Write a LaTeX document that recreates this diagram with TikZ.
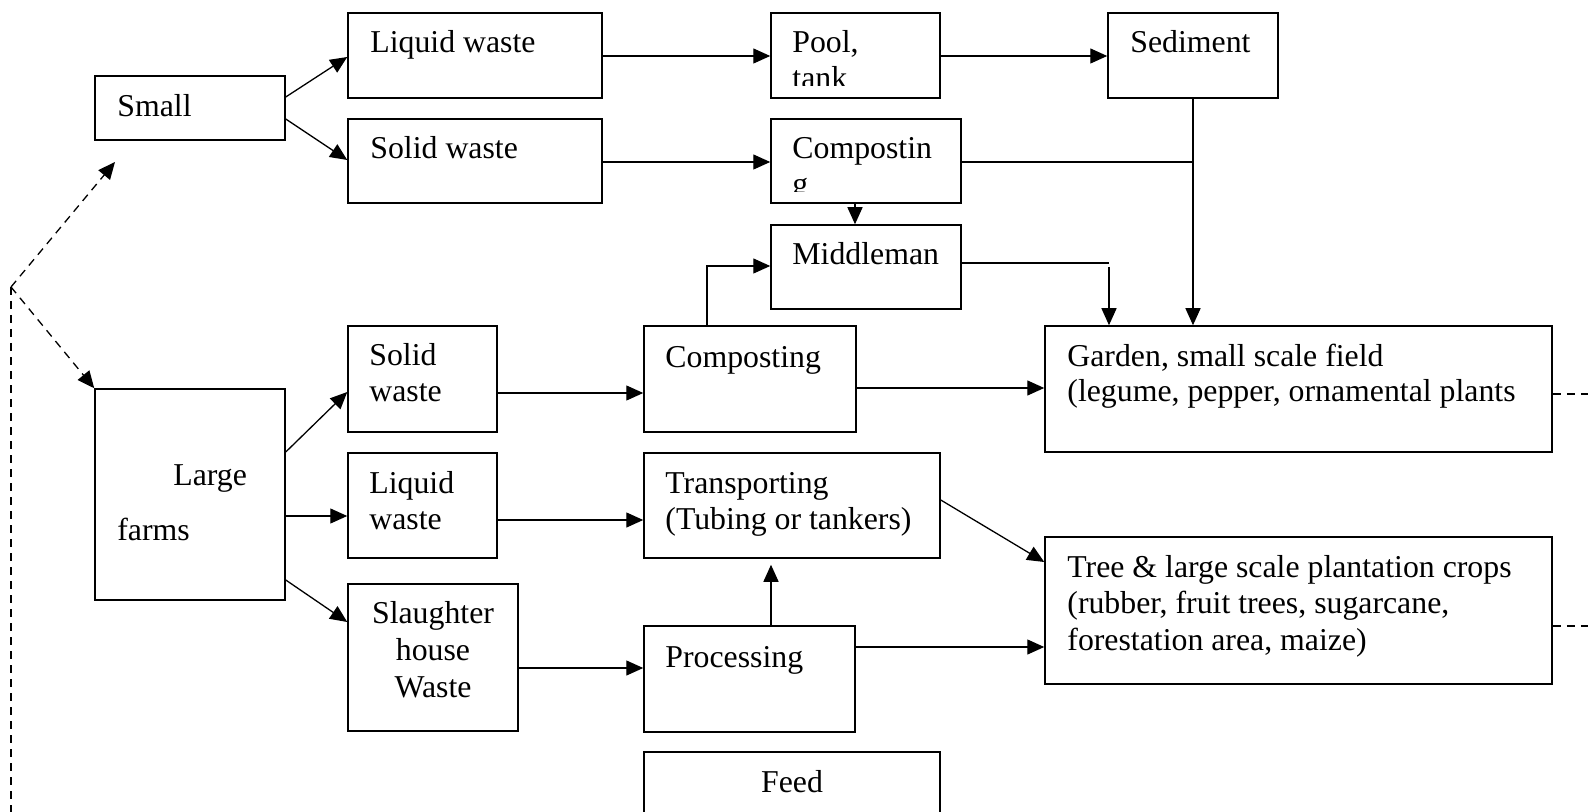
\documentclass[tikz,border=0pt]{standalone}
\usepackage{fontspec}
\setmainfont{Liberation Serif}
\usetikzlibrary{arrows.meta,fit}
\begin{document}
\begin{tikzpicture}[x=0.5pt,y=-0.5pt,
  box/.style={draw, line width=0.75pt, inner sep=0pt},
  txt/.style={inner sep=0pt, anchor=base west, font=\fontsize{15.9pt}{18pt}\selectfont},
  ctxt/.style={txt, anchor=base},
  tip/.style={-{Triangle[length=8.5pt,width=7.5pt]}},
  ln/.style={line width=0.65pt},
  arr/.style={ln, tip},
  dsh/.style={line width=0.65pt, dash pattern=on 4pt off 3pt}]
\useasboundingbox (0,0) rectangle (1588,812);

% boxes
\node[box, fit={(95,76) (285,140)}] (small) {};
\node[box, fit={(348,13) (602,98)}] (liqS) {};
\node[box, fit={(348,119) (602,203)}] (solS) {};
\node[box, fit={(771,13) (940,98)}] (pool) {};
\node[box, fit={(771,119) (961,203)}] (compS) {};
\node[box, fit={(1108,13) (1278,98)}] (sed) {};
\node[box, fit={(771,225) (961,309)}] (middle) {};
\node[box, fit={(95,389) (285,600)}] (large) {};
\node[box, fit={(348,326) (497,432)}] (solL) {};
\node[box, fit={(348,453) (497,558)}] (liqL) {};
\node[box, fit={(348,584) (518,731)}] (slaughter) {};
\node[box, fit={(644,326) (856,432)}] (compL) {};
\node[box, fit={(644,453) (940,558)}] (transport) {};
\node[box, fit={(644,626) (855,732)}] (processing) {};
\node[box, fit={(644,752) (940,840)}] (feed) {};
\node[box, fit={(1045,326) (1552,452)}] (garden) {};
\node[box, fit={(1045,537) (1552,684)}] (tree) {};

% texts
\node[txt] (tSmall) at (117,117) {Small};
\node[txt] (tLiqS) at (370,53) {Liquid waste};
\node[txt] (tSolS) at (370,159) {Solid waste};
\node[txt] (tPool) at (792,53) {Pool,};
\begin{scope}
  \clip (771,13) rectangle (940,86);
  \node[txt] (tTank) at (792,89) {tank};
\end{scope}
\node[txt] (tCompS) at (792,159) {Compostin};
\begin{scope}
  \clip (771,119) rectangle (961,192);
  \node[txt] (tCompSg) at (792,195) {g};
\end{scope}
\node[txt] (tSed) at (1130,53) {Sediment};
\node[txt] (tMid) at (792,265) {Middleman};
\node[txt] (tLarge1) at (173,485) {Large};
\node[txt] (tLarge2) at (117,540) {farms};
\node[txt] (tSolL1) at (369,365) {Solid};
\node[txt] (tSolL2) at (369,401) {waste};
\node[txt] (tLiqL1) at (369,493) {Liquid};
\node[txt] (tLiqL2) at (369,529) {waste};
\node[ctxt] (tSl1) at (433,623) {Slaughter};
\node[ctxt] (tSl2) at (433,660) {house};
\node[ctxt] (tSl3) at (433,697) {Waste};
\node[txt] (tCompL) at (665,367) {Composting};
\node[txt] (tTr1) at (665,493) {Transporting};
\node[txt] (tTr2) at (665,529) {(Tubing or tankers)};
\node[txt] (tProc) at (665,667) {Processing};
\node[ctxt] (tFeed) at (792,792) {Feed};
\node[txt] (tG1) at (1067,366) {Garden, small scale field};
\node[txt] (tG2) at (1067,401) {(legume, pepper, ornamental plants};
\node[txt] (tT1) at (1067,577) {Tree \& large scale plantation crops};
\node[txt] (tT2) at (1067,613) {(rubber, fruit trees, sugarcane,};
\node[txt] (tT3) at (1067,650) {forestation area, maize)};

% connectors
\draw[arr] (small.east |- 0,97) -- (liqS.west |- 0,57);
\draw[arr] (small.east |- 0,119) -- (solS.west |- 0,160);
\draw[arr] (liqS.east |- 0,56) -- (pool.west |- 0,56);
\draw[arr] (solS.east |- 0,162) -- (compS.west |- 0,162);
\draw[arr] (pool.east |- 0,56) -- (sed.west |- 0,56);
\draw[arr] (compS.south -| 855,0) -- (middle.north -| 855,0);
\draw[arr] (sed.south -| 1193,0) -- (garden.north -| 1193,0);
\coordinate (j1) at (1193,162);
\draw[ln] (compS.east |- 0,162) -- (j1);
\coordinate (mj) at (1109,263);
\draw[ln] (middle.east |- mj) -- (mj);
\draw[arr] (1109,267) -- (garden.north -| mj);
\draw[arr] (compL.north -| 707,0) |- (middle.west |- 0,266);
\draw[arr] (large.east |- 0,452) -- (solL.west |- 0,392);
\draw[arr] (large.east |- 0,516) -- (liqL.west |- 0,516);
\draw[arr] (large.east |- 0,580) -- (slaughter.west |- 0,622);
\draw[arr] (solL.east |- 0,393) -- (compL.west |- 0,393);
\draw[arr] (liqL.east |- 0,520) -- (transport.west |- 0,520);
\draw[arr] (slaughter.east |- 0,668) -- (processing.west |- 0,668);
\draw[arr] (compL.east |- 0,388) -- (garden.west |- 0,388);
\draw[arr] (transport.east |- 0,500) -- (tree.west |- 0,562);
\draw[arr, shorten >=3pt] (processing.north -| 771,0) -- (transport.south -| 771,0);
\draw[arr] (processing.east |- 0,647) -- (tree.west |- 0,647);

% dashed
\coordinate (dk) at (11,287);
\coordinate (dtip) at (115,162);
\coordinate (dbot) at (11,812);
\coordinate (gr) at (1588,394);
\coordinate (tr) at (1588,626);
\draw[dsh, tip] (dk) -- (dtip);
\draw[dsh, tip] (dk) -- (large.north west);
\draw[dsh] (dk) -- (dbot);
\draw[dsh] (garden.east |- gr) -- (gr);
\draw[dsh] (tree.east |- tr) -- (tr);
\end{tikzpicture}
\end{document}
